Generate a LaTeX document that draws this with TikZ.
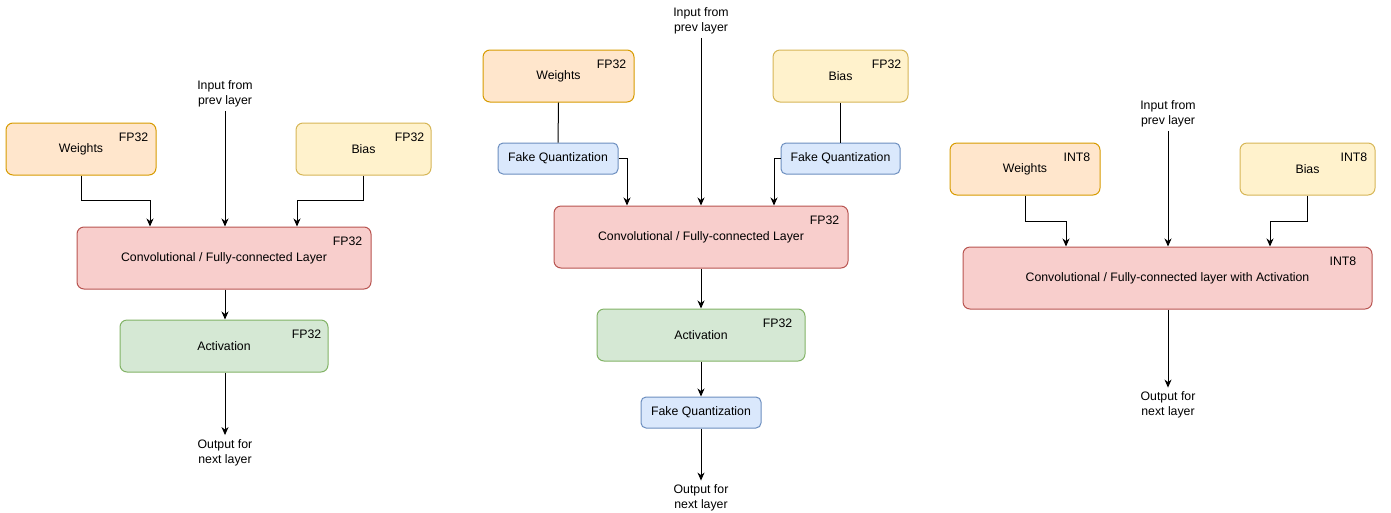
\documentclass[tikz,border=0pt]{standalone}
\usepackage{fontspec}
\setmainfont{Liberation Sans}
\usetikzlibrary{arrows.meta, calc, positioning}
\definecolor{wfill}{HTML}{FFE6CC}
\definecolor{wdraw}{HTML}{D79B00}
\definecolor{bfill}{HTML}{FFF2CC}
\definecolor{bdraw}{HTML}{D6B656}
\definecolor{cfill}{HTML}{F8CECC}
\definecolor{cdraw}{HTML}{B85450}
\definecolor{afill}{HTML}{D5E8D4}
\definecolor{adraw}{HTML}{82B366}
\definecolor{qfill}{HTML}{DAE8FC}
\definecolor{qdraw}{HTML}{6C8EBF}
\tikzset{
    boxnode/.style = {draw, rectangle, rounded corners=7pt, inner sep=0pt, line width=1pt,
      font=\fontsize{12.3}{14}\selectfont},
    weightnode/.style = {boxnode, fill=wfill, draw=wdraw, minimum width=150pt, minimum height=52pt},
    biasnode/.style = {boxnode, fill=bfill, draw=bdraw, minimum width=135pt, minimum height=52pt},
    convnode/.style = {boxnode, fill=cfill, draw=cdraw, minimum width=294pt, minimum height=62pt},
    actnode/.style = {boxnode, fill=afill, draw=adraw, minimum width=208pt, minimum height=52pt},
    fqnode/.style = {boxnode, fill=qfill, draw=qdraw, minimum width=120pt, minimum height=31pt, rounded corners=5pt},
    tag/.style 2 args = {label={[anchor=north east, inner sep=0pt, xshift=#2, yshift=-10pt,
      font=\fontsize{12.3}{14}\selectfont]north east:#1}},
    textnode/.style = {draw=none, fill=none, align=center, inner sep=4pt,
      font=\fontsize{12.3}{15}\selectfont},
    connect/.style = {black, line width=1pt, -{Stealth[length=8pt, width=7pt, inset=2.5pt]}},
    plainline/.style = {black, line width=1pt}
}
\begin{document}
\begin{tikzpicture}[x=1pt, y=-1pt]
\useasboundingbox (0,0) rectangle (1391,512);
% FP32 training
\node[weightnode, tag={FP32}{-8pt}, name=w1] at (81,149) {Weights};
\node[biasnode, tag={FP32}{-7pt}, name=b1] at (363.5,149) {Bias};
\node[textnode, name=in1] at (225,93.5) {Input from\\prev layer};
\node[convnode, tag={FP32}{-9pt}, name=c1] at (224,258) {Convolutional / Fully-connected Layer};
\node[actnode, tag={FP32}{-7pt}, name=a1] at (224,346) {Activation};
\node[textnode, name=out1] at (225,452.5) {Output for\\next layer};
\draw[connect] (w1.south) -- ++(0,25) -| ([xshift=-74pt]c1.north);
\draw[connect] (b1.south) -- ++(0,25) -| ([xshift=73pt]c1.north);
\draw[connect] (in1.south) -- (in1.south |- c1.north);
\draw[connect] (in1.south |- c1.south) -- (in1.south |- a1.north);
\draw[connect] (in1.south |- a1.south) -- (out1.north);
% quantization aware training
\node[weightnode, tag={FP32}{-8pt}, name=w2, minimum width=151pt] at (558.5,76) {Weights};
\node[biasnode, tag={FP32}{-7pt}, name=b2] at (840.5,76) {Bias};
\node[textnode, name=in2] at (701,20.5) {Input from\\prev layer};
\node[fqnode, name=fq1] at (558,158.5) {Fake Quantization};
\node[fqnode, name=fq2, minimum width=119pt] at (840.5,158.5) {Fake Quantization};
\node[convnode, tag={FP32}{-9pt}, name=c2] at (701,237) {Convolutional / Fully-connected Layer};
\node[actnode, tag={FP32}{-13pt}, name=a2] at (701,335) {Activation};
\node[fqnode, name=fq3] at (701,412.5) {Fake Quantization};
\node[textnode, name=out2] at (701,498) {Output for\\next layer};
\draw[plainline] (w2.south) -- (fq1.north);
\draw[plainline] (b2.south) -- (fq2.north);
\draw[connect] (fq1.east) -| ([xshift=-74pt]c2.north);
\draw[connect] (fq2.west) -| ([xshift=73pt]c2.north);
\draw[connect] (in2.south) -- (c2.north);
\draw[connect] (c2.south) -- (a2.north);
\draw[connect] (a2.south) -- (fq3.north);
\draw[connect] (fq3.south) -- (out2.north);
% INT8 inference
\node[weightnode, tag={INT8}{-10pt}, name=w3] at (1025,169) {Weights};
\node[biasnode, tag={INT8}{-8pt}, name=b3] at (1307.5,169) {Bias};
\node[textnode, name=in3] at (1168,113.5) {Input from\\prev layer};
\node[convnode, tag={INT8}{-16pt}, name=c3, minimum width=409pt] at (1167.5,278) {Convolutional / Fully-connected layer with Activation};
\node[textnode, name=out3] at (1168,405) {Output for\\next layer};
\draw[connect] (w3.south) -- ++(0,26) -| ([xshift=-101.5pt]c3.north);
\draw[connect] (b3.south) -- ++(0,26) -| ([xshift=102.5pt]c3.north);
\draw[connect] (in3.south) -- (in3.south |- c3.north);
\draw[connect] (in3.south |- c3.south) -- (out3.north);
\end{tikzpicture}
\end{document}
